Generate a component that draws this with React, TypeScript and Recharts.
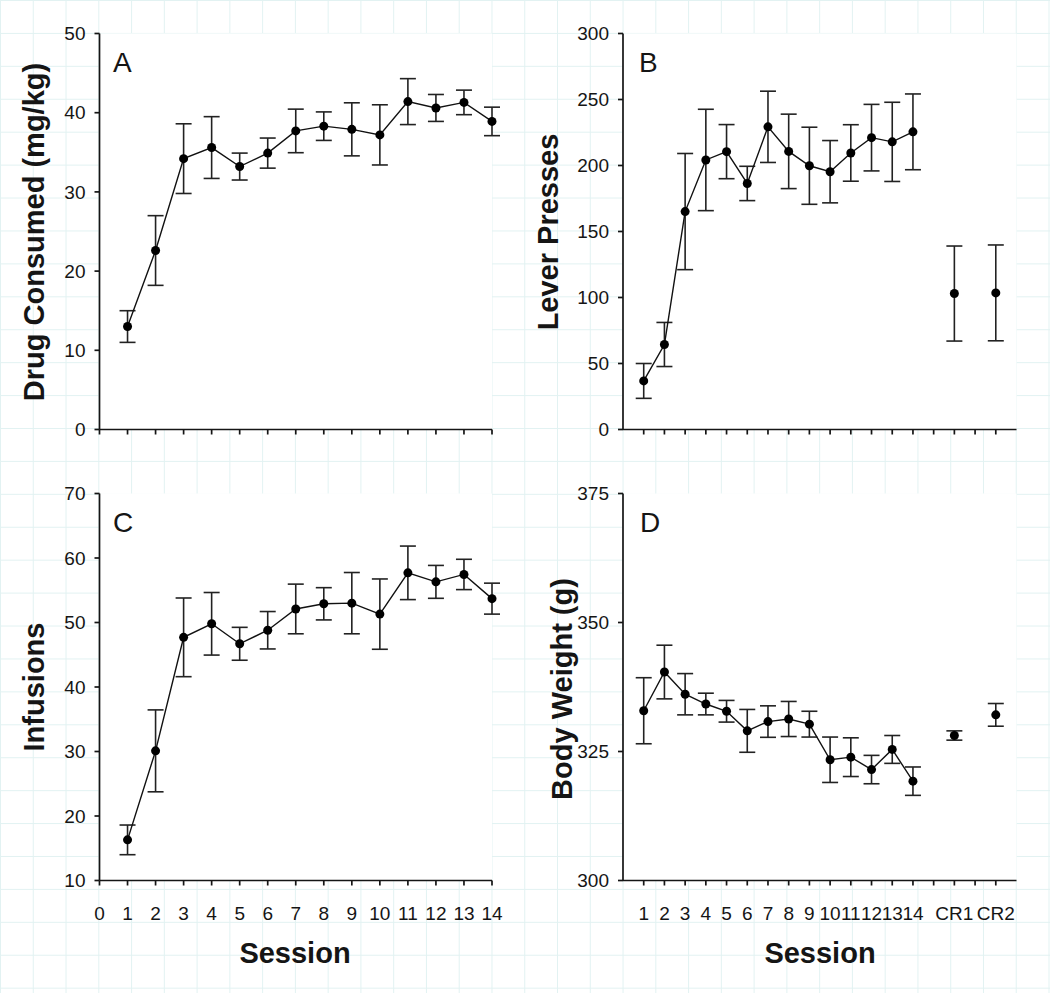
import React from 'react';
import { LineChart, Line, XAxis, YAxis, ErrorBar, CartesianGrid } from 'recharts';

// ---- data ----
const sessions = [1, 2, 3, 4, 5, 6, 7, 8, 9, 10, 11, 12, 13, 14];

const drugMean = [13.0, 22.6, 34.2, 35.6, 33.2, 34.9, 37.7, 38.3, 37.9, 37.2, 41.4, 40.6, 41.3, 38.9];
const drugErr = [2.0, 4.4, 4.4, 3.9, 1.7, 1.9, 2.75, 1.8, 3.35, 3.8, 2.9, 1.7, 1.55, 1.8];

const leverMean = [36.8, 64.4, 165.1, 204.2, 210.5, 186.4, 229.3, 210.7, 199.8, 195.3, 209.5, 221.1, 217.9, 225.5];
const leverErr = [13.2, 16.7, 44, 38.4, 20.5, 13, 27, 28.2, 29.2, 23.6, 21.4, 25.2, 30, 28.7];
const leverCRMean = [103, 103.5];
const leverCRErr = [36, 36.3];

const infMean = [16.3, 30.1, 47.7, 49.8, 46.7, 48.8, 52.1, 52.9, 53.0, 51.3, 57.7, 56.3, 57.45, 53.7];
const infErr = [2.3, 6.35, 6.1, 4.85, 2.55, 2.9, 3.85, 2.5, 4.75, 5.45, 4.15, 2.55, 2.35, 2.4];

const bwMean = [332.9, 340.4, 336.1, 334.2, 332.8, 329.0, 330.8, 331.3, 330.3, 323.4, 323.9, 321.5, 325.4, 319.25];
const bwErr = [6.4, 5.2, 4.0, 2.1, 2.1, 4.15, 3.05, 3.4, 2.5, 4.4, 3.75, 2.75, 2.7, 2.75];
const bwCRMean = [328.1, 332.1];
const bwCRErr = [0.9, 2.2];

// tick labels
const sessionTicksAC = [0, 1, 2, 3, 4, 5, 6, 7, 8, 9, 10, 11, 12, 13, 14];
const tickLabelsBD = ['1', '2', '3', '4', '5', '6', '7', '8', '9', '10', '11', '12', '13', '14', '', 'CR1', '', 'CR2'];
const crCategories = ['CR1', 'CR2'];
const yTicksA = [0, 10, 20, 30, 40, 50];
const yTicksB = [0, 50, 100, 150, 200, 250, 300];
const yTicksC = [10, 20, 30, 40, 50, 60, 70];
const yTicksD = [300, 325, 350, 375];

// ---- build tables ----
const buildSessions = (mean: number[], err: number[]) =>
  sessions.map((s, i) => ({ x: s, y: mean[i], e: err[i] }));
const tickPosBD = tickLabelsBD.map((_, i) => i + 1);
const buildCR = (mean: number[], err: number[]) =>
  crCategories.map((c, i) => ({ x: tickLabelsBD.indexOf(c) + 1, y: mean[i], e: err[i] }));

const drugData = buildSessions(drugMean, drugErr);
const leverData = buildSessions(leverMean, leverErr);
const leverCR = buildCR(leverCRMean, leverCRErr);
const infData = buildSessions(infMean, infErr);
const bwData = buildSessions(bwMean, bwErr);
const bwCR = buildCR(bwCRMean, bwCRErr);

const FONT = '"Liberation Sans", Arial, Helvetica, sans-serif';
const INK = '#151515';
const tickStyle = { fill: INK, fontSize: 19, fontFamily: FONT };
const axisLine = { stroke: INK, strokeWidth: 1.7 };
const tickLine = { stroke: INK, strokeWidth: 1.7 };
const dotStyle = { r: 4.5, fill: '#000', stroke: '#000', strokeWidth: 0 };

type PanelProps = {
  left: number;
  top: number;
  width: number;
  height: number;
  plot: { l: number; t: number; r: number; b: number };
  xDomain: [number, number];
  xTicks: number[];
  xFormatter: (v: number) => string;
  yDomain: [number, number];
  yTicks: number[];
  series: { x: number; y: number; e: number }[];
  extra?: { x: number; y: number; e: number }[];
};

const Y_W = 60;
const X_H = 40;

function Panel(p: PanelProps) {
  const margin = {
    left: p.plot.l - Y_W,
    top: p.plot.t,
    right: p.width - p.plot.r,
    bottom: p.height - p.plot.b - X_H,
  };
  return (
    <div style={{ position: 'absolute', left: p.left, top: p.top }}>
      <LineChart width={p.width} height={p.height} margin={margin}>
        <CartesianGrid fill="#ffffff" stroke="none" horizontal={false} vertical={false} />
        <XAxis
          type="number"
          dataKey="x"
          domain={p.xDomain}
          ticks={p.xTicks}
          interval={0}
          height={X_H}
          tickSize={5}
          tickMargin={21}
          tickFormatter={p.xFormatter}
          axisLine={axisLine}
          tickLine={tickLine}
          tick={tickStyle}
        />
        <YAxis
          type="number"
          domain={p.yDomain}
          ticks={p.yTicks}
          interval={0}
          width={Y_W}
          tickSize={5}
          tickMargin={9}
          axisLine={axisLine}
          tickLine={tickLine}
          tick={tickStyle}
        />
        <Line
          data={p.series}
          dataKey="y"
          stroke="#111"
          strokeWidth={1.4}
          dot={dotStyle}
          activeDot={false}
          isAnimationActive={false}
        >
          <ErrorBar dataKey="e" direction="y" width={8} stroke="#222" strokeWidth={1.6} />
        </Line>
        {p.extra && (
          <Line
            data={p.extra}
            dataKey="y"
            stroke="none"
            dot={dotStyle}
            activeDot={false}
            isAnimationActive={false}
          >
            <ErrorBar dataKey="e" direction="y" width={8} stroke="#222" strokeWidth={1.6} />
          </Line>
        )}
      </LineChart>
    </div>
  );
}

export default function App() {
  const gridBg = {
    backgroundColor: '#ffffff',
    backgroundImage:
      'linear-gradient(to right, #e2f2f2 1.2px, transparent 1.2px), linear-gradient(to bottom, #e2f2f2 1.2px, transparent 1.2px)',
    backgroundSize: '32.78px 32.93px',
  };
  const blank = () => '';
  const numFmt = (v: number) => String(v);
  const bdFmt = (v: number) => tickLabelsBD[v - 1] ?? '';
  return (
    <div
      style={{
        position: 'absolute',
        left: 0,
        top: 0,
        width: 1050,
        height: 993,
        overflow: 'hidden',
        fontFamily: FONT,
        ...gridBg,
      }}
    >
      <Panel
        left={0}
        top={0}
        width={525}
        height={470}
        plot={{ l: 99.5, t: 33.5, r: 492, b: 429.5 }}
        xDomain={[0, 14]}
        xTicks={sessionTicksAC}
        xFormatter={blank}
        yDomain={[0, 50]}
        yTicks={yTicksA}
        series={drugData}
      />
      <Panel
        left={525}
        top={0}
        width={525}
        height={470}
        plot={{ l: 98, t: 33.5, r: 491.5, b: 429.5 }}
        xDomain={[0, 19]}
        xTicks={tickPosBD}
        xFormatter={blank}
        yDomain={[0, 300]}
        yTicks={yTicksB}
        series={leverData}
        extra={leverCR}
      />
      <Panel
        left={0}
        top={460}
        width={525}
        height={533}
        plot={{ l: 99.5, t: 33.5, r: 492, b: 420.5 }}
        xDomain={[0, 14]}
        xTicks={sessionTicksAC}
        xFormatter={numFmt}
        yDomain={[10, 70]}
        yTicks={yTicksC}
        series={infData}
      />
      <Panel
        left={525}
        top={460}
        width={525}
        height={533}
        plot={{ l: 98, t: 33.5, r: 491.5, b: 420.5 }}
        xDomain={[0, 19]}
        xTicks={tickPosBD}
        xFormatter={bdFmt}
        yDomain={[300, 375]}
        yTicks={yTicksD}
        series={bwData}
        extra={bwCR}
      />
      <svg
        width={1050}
        height={993}
        style={{ position: 'absolute', left: 0, top: 0, pointerEvents: 'none' }}
        fontFamily={FONT}
      >
        <text x={113} y={72} fontSize={28} fill={INK}>A</text>
        <text x={639} y={72} fontSize={28} fill={INK}>B</text>
        <text x={113} y={532} fontSize={28} fill={INK}>C</text>
        <text x={640} y={532} fontSize={28} fill={INK}>D</text>
        <text transform="translate(44,232) rotate(-90)" textAnchor="middle" fontSize={29} fontWeight="bold" fill={INK}>
          Drug Consumed (mg/kg)
        </text>
        <text transform="translate(558,232) rotate(-90)" textAnchor="middle" fontSize={29} fontWeight="bold" fill={INK}>
          Lever Presses
        </text>
        <text transform="translate(44,687) rotate(-90)" textAnchor="middle" fontSize={29} fontWeight="bold" fill={INK}>
          Infusions
        </text>
        <text transform="translate(572,689) rotate(-90)" textAnchor="middle" fontSize={29} fontWeight="bold" fill={INK}>
          Body Weight (g)
        </text>
        <text x={295} y={963} textAnchor="middle" fontSize={29} fontWeight="bold" fill={INK}>Session</text>
        <text x={820} y={963} textAnchor="middle" fontSize={29} fontWeight="bold" fill={INK}>Session</text>
      </svg>
    </div>
  );
}
